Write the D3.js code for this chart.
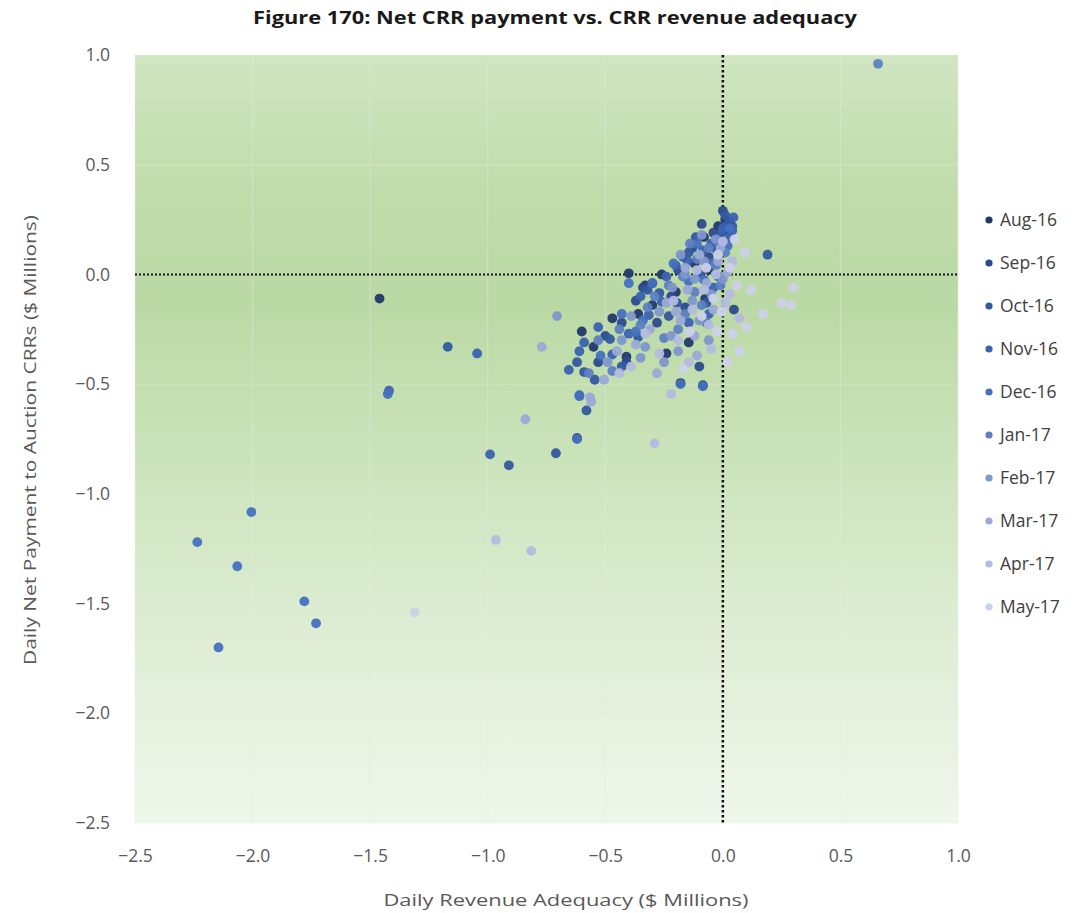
<!DOCTYPE html>
<html><head><meta charset="utf-8">
<script src="https://cdn.jsdelivr.net/npm/d3@7"></script>
<style>body{margin:0;background:#fff;}svg{display:block;}</style>
</head><body><div id="chart"></div>
<script>
const title = "Figure 170: Net CRR payment vs. CRR revenue adequacy";
const xLabel = "Daily Revenue Adequacy ($ Millions)";
const yLabel = "Daily Net Payment to Auction CRRs ($ Millions)";
const xTicks = [-2.5, -2.0, -1.5, -1.0, -0.5, 0.0, 0.5, 1.0];
const yTicks = [1.0, 0.5, 0.0, -0.5, -1.0, -1.5, -2.0, -2.5];
const months = ["Aug-16","Sep-16","Oct-16","Nov-16","Dec-16","Jan-17","Feb-17","Mar-17","Apr-17","May-17"];
const monthColors = ["#22396b","#2c4b8c","#33599f","#3a62b0","#4470c0","#5d7fc2","#7f97cc","#9aa9d6","#b4bbe0","#ccd1ea"];

// [revenue adequacy, net payment] per day, $ millions
const aug16 = [[-1.46,-0.11],[-0.40,0.005],[-0.60,-0.26],[-0.47,-0.20],[-0.08,0.17],[-0.24,-0.36],[-0.145,-0.31],[-0.41,-0.375],[-0.30,-0.14],[-0.075,-0.11],[-0.18,-0.495],[-0.02,0.22],[-0.12,0.05],[-0.33,-0.05],[-0.55,-0.33],[-0.20,-0.08],[0.01,0.25],[-0.06,0.02],[-0.36,-0.18],[-0.26,0.00]];
const sep16 = [[-0.41,-0.40],[-0.53,-0.40],[-0.62,-0.745],[-0.10,-0.42],[-0.085,-0.505],[0.047,-0.16],[-0.34,-0.06],[-0.37,-0.12],[-0.19,0.02],[-0.09,0.23],[0.00,0.29],[0.02,0.20],[-0.04,0.19],[-0.16,-0.15],[-0.28,-0.22],[-0.43,-0.22],[-0.50,-0.28],[-0.13,0.12],[-0.06,0.08],[-0.22,-0.10],[0.03,0.24],[-0.30,-0.04]];
const oct16 = [[0.19,0.09],[-0.43,-0.42],[-0.59,-0.445],[-0.545,-0.48],[-0.58,-0.62],[-0.71,-0.815],[-1.17,-0.33],[-0.91,-0.87],[-0.62,-0.40],[-0.32,-0.07],[-0.27,-0.085],[-0.115,0.17],[-0.145,0.10],[-0.025,0.11],[0.01,0.27],[0.04,0.22],[-0.17,0.08],[-0.10,0.005],[-0.195,-0.13],[-0.07,-0.13],[-0.36,-0.285],[-0.48,-0.295],[-0.23,-0.19],[-0.015,0.15],[0.02,0.23],[-0.01,0.18]];
const nov16 = [[-1.42,-0.53],[-1.045,-0.36],[-0.99,-0.82],[-0.655,-0.435],[-0.61,-0.55],[-0.61,-0.35],[-0.59,-0.31],[-0.53,-0.24],[-0.47,-0.365],[-0.40,-0.27],[-0.315,-0.185],[-0.26,-0.125],[-0.24,-0.01],[-0.085,0.11],[-0.04,-0.06],[0.03,0.17],[0.00,0.21],[-0.05,0.14],[-0.145,-0.22],[-0.06,-0.18],[-0.20,0.04],[-0.35,-0.10],[-0.15,0.06],[0.045,0.26],[0.04,0.20]];
const dec16 = [[-2.005,-1.083],[-2.235,-1.22],[-2.065,-1.33],[-1.78,-1.49],[-1.73,-1.59],[-2.145,-1.70],[-1.425,-0.545],[-0.62,-0.75],[-0.61,-0.555],[-0.18,-0.50],[-0.085,-0.51],[-0.40,-0.04],[-0.30,-0.04],[-0.145,-0.03],[-0.08,-0.025],[-0.02,-0.01],[-0.34,-0.21],[-0.43,-0.18],[-0.37,-0.26],[-0.11,0.14],[0.02,0.13],[-0.05,0.05],[-0.21,0.05],[-0.52,-0.37],[0.03,0.21]];
const jan17 = [[0.66,0.96],[-0.53,-0.30],[-0.44,-0.25],[-0.35,-0.23],[-0.29,-0.10],[-0.23,-0.05],[-0.17,-0.01],[-0.12,-0.08],[-0.06,0.12],[-0.03,0.04],[0.01,0.10],[-0.14,0.14],[-0.09,-0.14],[-0.25,-0.29],[-0.19,-0.25],[-0.11,0.07],[-0.32,-0.15],[-0.01,-0.05],[-0.57,-0.45],[-0.47,-0.44],[-0.16,-0.18],[-0.07,-0.22]];
const feb17 = [[-0.705,-0.19],[-0.33,-0.33],[-0.39,-0.19],[-0.215,-0.06],[-0.19,-0.35],[-0.10,-0.21],[-0.12,-0.02],[-0.05,-0.09],[-0.27,-0.17],[-0.16,0.00],[-0.03,0.16],[-0.08,0.06],[-0.22,-0.28],[-0.43,-0.30],[-0.13,-0.12],[0.00,-0.02],[-0.35,-0.38],[-0.06,-0.30],[-0.18,0.09],[-0.09,0.18],[-0.25,-0.40],[-0.49,-0.40]];
const mar17 = [[-0.84,-0.66],[-0.77,-0.33],[-0.565,-0.56],[-0.56,-0.58],[-0.505,-0.48],[-0.18,-0.21],[-0.12,-0.28],[-0.07,-0.04],[-0.02,0.06],[-0.15,-0.07],[-0.24,-0.13],[-0.31,-0.25],[-0.04,-0.16],[-0.10,0.09],[0.02,0.01],[-0.20,-0.17],[-0.37,-0.32],[-0.28,-0.45],[-0.11,-0.37],[-0.01,0.12],[-0.45,-0.35],[-0.16,0.03]];
const apr17 = [[-0.965,-1.21],[-0.815,-1.26],[-0.29,-0.77],[-0.22,-0.545],[-0.44,-0.45],[-0.145,-0.40],[0.01,-0.13],[-0.06,-0.23],[0.04,0.06],[-0.08,-0.07],[-0.13,-0.16],[-0.03,0.00],[-0.19,-0.30],[-0.27,-0.36],[0.00,0.15],[-0.05,-0.34],[-0.33,-0.27],[-0.11,0.02],[0.03,-0.09],[-0.21,-0.12],[-0.39,-0.42],[0.07,-0.20]];
const may17 = [[-1.31,-1.54],[0.12,-0.07],[0.25,-0.13],[0.29,-0.14],[0.30,-0.06],[0.17,-0.18],[0.04,-0.27],[0.07,-0.35],[0.094,0.10],[-0.025,-0.26],[-0.005,-0.17],[0.03,0.03],[-0.04,-0.11],[-0.09,-0.19],[0.06,-0.05],[-0.14,-0.26],[0.02,-0.40],[-0.07,0.03],[-0.17,-0.43],[0.10,-0.24],[-0.02,0.09],[0.05,0.16]];
const seriesValues = [aug16, sep16, oct16, nov16, dec16, jan17, feb17, mar17, apr17, may17];

const W = 1088, H = 913;
const plot = {left: 135, right: 958, top: 55, bottom: 823};
const svg = d3.select("#chart").append("svg").attr("width", W).attr("height", H);
const x = d3.scaleLinear().domain([-2.5, 1.0]).range([plot.left, plot.right]);
const y = d3.scaleLinear().domain([-2.5, 1.0]).range([plot.bottom, plot.top]);

const defs = svg.append("defs");
const grad = defs.append("linearGradient").attr("id", "bg").attr("x1", 0).attr("x2", 0).attr("y1", 0).attr("y2", 1);
[["0%","#d0e5c1"],["18%","#c0dcab"],["32%","#bad9a4"],["50%","#c9e2b8"],["75%","#deedd4"],["100%","#eff6eb"]]
  .forEach(([o,c]) => grad.append("stop").attr("offset", o).attr("stop-color", c));

svg.append("rect").attr("x", plot.left).attr("y", plot.top)
  .attr("width", plot.right - plot.left).attr("height", plot.bottom - plot.top).attr("fill", "url(#bg)");

// grid
const grid = svg.append("g");
grid.selectAll(".gx").data(xTicks).join("line")
  .attr("x1", d => x(d)).attr("x2", d => x(d)).attr("y1", plot.top).attr("y2", plot.bottom)
  .attr("stroke", "#e4ebe0").attr("stroke-opacity", 0.45).attr("stroke-width", 1);
grid.selectAll(".gy").data(yTicks).join("line")
  .attr("y1", d => y(d)).attr("y2", d => y(d)).attr("x1", plot.left).attr("x2", plot.right)
  .attr("stroke", "#e4ebe0").attr("stroke-opacity", 0.45).attr("stroke-width", 1);

// axes
const fontFam = "'Open Sans', 'Noto Sans', sans-serif";
const xAxis = svg.append("g").attr("transform", `translate(0,${plot.bottom})`)
  .call(d3.axisBottom(x).tickValues(xTicks).tickFormat(d3.format(".1f")).tickSize(0).tickPadding(27));
const yAxis = svg.append("g").attr("transform", `translate(${plot.left},0)`)
  .call(d3.axisLeft(y).tickValues(yTicks).tickFormat(d3.format(".1f")).tickSize(0).tickPadding(25));
[xAxis, yAxis].forEach(a => {
  a.select(".domain").remove();
  a.selectAll("text").attr("fill", "#595959").style("font-family", fontFam).style("font-size", "17.5px");
});

// zero lines
svg.append("line").attr("x1", x(0)).attr("x2", x(0)).attr("y1", plot.top).attr("y2", plot.bottom)
  .attr("stroke", "#111").attr("stroke-width", 2.5).attr("stroke-dasharray", "2.5,2.5");
svg.append("line").attr("x1", plot.left).attr("x2", plot.right).attr("y1", y(0)).attr("y2", y(0))
  .attr("stroke", "#111").attr("stroke-width", 2).attr("stroke-dasharray", "2,2");

// points
seriesValues.forEach((vals, i) => {
  svg.append("g").selectAll("circle").data(vals).join("circle")
    .attr("cx", d => x(d[0])).attr("cy", d => y(d[1])).attr("r", 4.9)
    .attr("fill", monthColors[i]).attr("fill-opacity", 0.95);
});

// title
svg.append("text").attr("x", 555).attr("y", 24).attr("text-anchor", "middle")
  .attr("font-family", fontFam).attr("font-weight", "bold").attr("font-size", 17.5).attr("fill", "#1a1a1a")
  .attr("textLength", 604).attr("lengthAdjust", "spacingAndGlyphs").text(title);

// axis titles
svg.append("text").attr("x", 566).attr("y", 906).attr("text-anchor", "middle")
  .attr("font-family", fontFam).attr("font-size", 17).attr("fill", "#595959")
  .attr("textLength", 365).attr("lengthAdjust", "spacingAndGlyphs").text(xLabel);
svg.append("text").attr("transform", "translate(36,440) rotate(-90)").attr("text-anchor", "middle")
  .attr("font-family", fontFam).attr("font-size", 17).attr("fill", "#595959")
  .attr("textLength", 450).attr("lengthAdjust", "spacingAndGlyphs").text(yLabel);

// legend
const lg = svg.append("g");
months.forEach((m, i) => {
  const ly = 220 + i * 43;
  lg.append("circle").attr("cx", 989).attr("cy", ly).attr("r", 3.6).attr("fill", monthColors[i]);
  lg.append("text").attr("x", 1000).attr("y", ly).attr("dy", "0.35em")
    .attr("font-family", fontFam).attr("font-size", 17.5).attr("fill", "#404040").text(m);
});
</script></body></html>
